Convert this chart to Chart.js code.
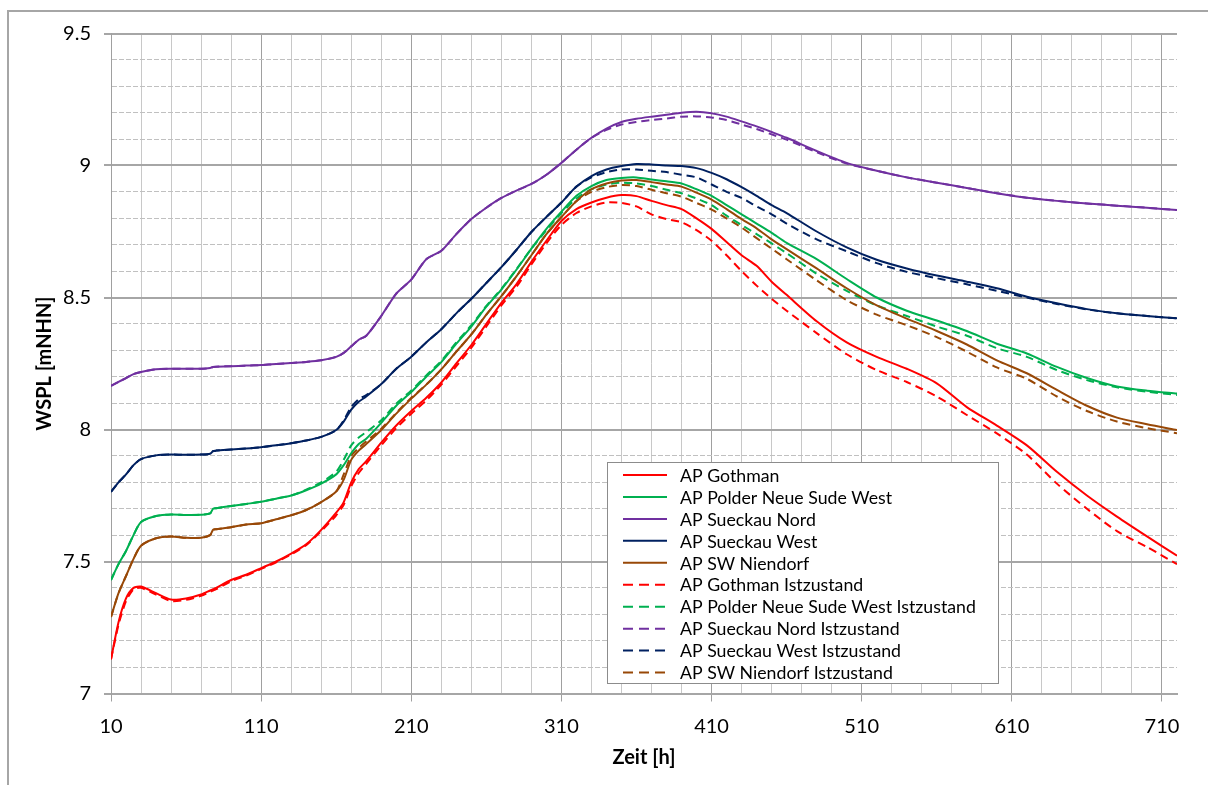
<!DOCTYPE html>
<html><head><meta charset="utf-8">
<script src="https://cdn.jsdelivr.net/npm/chart.js@4.4.0/dist/chart.umd.min.js"></script>
<style>html,body{margin:0;padding:0;background:#fff;}</style>
</head><body>
<canvas id="c" width="1208" height="785"></canvas>
<script>
const hours = [10,15,20,25,30,40,50,60,70,76,78,80,90,100,110,120,130,140,150,160,165,170,175,180,190,200,210,220,230,240,250,260,270,280,290,300,310,320,330,340,350,360,370,380,390,400,410,420,430,440,450,460,480,500,520,540,560,580,600,620,640,660,680,700,720];

const gothman = [7.13,7.27,7.36,7.40,7.405,7.38,7.356,7.36,7.375,7.39,7.395,7.40,7.43,7.45,7.475,7.50,7.53,7.565,7.62,7.685,7.725,7.80,7.85,7.88,7.95,8.015,8.07,8.12,8.178,8.25,8.32,8.40,8.48,8.55,8.635,8.715,8.79,8.835,8.86,8.878,8.888,8.884,8.866,8.85,8.835,8.80,8.76,8.71,8.66,8.62,8.56,8.51,8.41,8.33,8.275,8.23,8.175,8.085,8.015,7.94,7.84,7.75,7.67,7.595,7.522];
const polder = [7.43,7.49,7.54,7.60,7.65,7.672,7.678,7.676,7.677,7.682,7.70,7.702,7.71,7.718,7.726,7.738,7.75,7.77,7.795,7.83,7.865,7.91,7.945,7.965,8.025,8.09,8.142,8.20,8.255,8.325,8.39,8.465,8.53,8.605,8.685,8.76,8.825,8.885,8.922,8.945,8.953,8.955,8.947,8.94,8.932,8.91,8.885,8.85,8.815,8.78,8.745,8.707,8.645,8.57,8.50,8.45,8.413,8.373,8.325,8.288,8.237,8.195,8.163,8.147,8.136];
const nord = [8.165,8.18,8.195,8.21,8.218,8.228,8.23,8.23,8.23,8.233,8.237,8.238,8.24,8.242,8.244,8.248,8.252,8.256,8.262,8.275,8.29,8.315,8.34,8.355,8.43,8.515,8.568,8.645,8.677,8.74,8.797,8.84,8.877,8.905,8.93,8.965,9.01,9.06,9.105,9.14,9.165,9.177,9.185,9.192,9.20,9.204,9.198,9.185,9.167,9.148,9.127,9.105,9.055,9.01,8.98,8.955,8.935,8.915,8.895,8.878,8.866,8.856,8.848,8.84,8.831];
const west = [7.764,7.80,7.83,7.865,7.888,7.902,7.905,7.904,7.905,7.908,7.918,7.92,7.924,7.928,7.933,7.94,7.948,7.958,7.972,7.998,8.03,8.075,8.105,8.125,8.172,8.23,8.276,8.33,8.38,8.44,8.495,8.555,8.615,8.68,8.748,8.805,8.86,8.92,8.96,8.985,8.998,9.006,9.004,9.00,8.998,8.99,8.972,8.948,8.918,8.885,8.85,8.82,8.75,8.69,8.643,8.61,8.583,8.56,8.535,8.503,8.478,8.456,8.44,8.43,8.421];
const niendorf = [7.29,7.38,7.445,7.51,7.56,7.588,7.595,7.59,7.59,7.60,7.62,7.622,7.63,7.64,7.645,7.66,7.675,7.695,7.725,7.765,7.81,7.885,7.92,7.945,7.998,8.06,8.117,8.17,8.228,8.295,8.36,8.435,8.505,8.58,8.66,8.74,8.805,8.865,8.91,8.932,8.943,8.945,8.937,8.928,8.92,8.897,8.871,8.835,8.797,8.762,8.72,8.683,8.61,8.535,8.47,8.42,8.373,8.322,8.262,8.213,8.15,8.09,8.045,8.02,7.998];

const gothmanIst = [7.13,7.26,7.35,7.395,7.40,7.375,7.35,7.355,7.37,7.385,7.39,7.395,7.425,7.447,7.472,7.497,7.527,7.562,7.615,7.675,7.715,7.785,7.835,7.87,7.94,8.005,8.06,8.11,8.17,8.24,8.31,8.39,8.47,8.54,8.625,8.705,8.775,8.82,8.845,8.86,8.858,8.845,8.815,8.797,8.785,8.755,8.715,8.66,8.60,8.545,8.495,8.45,8.365,8.285,8.225,8.18,8.125,8.055,7.985,7.905,7.795,7.70,7.615,7.555,7.49];
const polderIst = [7.43,7.49,7.54,7.60,7.65,7.672,7.678,7.676,7.677,7.682,7.70,7.702,7.71,7.718,7.726,7.738,7.75,7.772,7.80,7.84,7.885,7.94,7.97,7.99,8.035,8.098,8.148,8.205,8.26,8.33,8.395,8.468,8.533,8.607,8.685,8.755,8.82,8.875,8.91,8.928,8.935,8.932,8.922,8.908,8.895,8.875,8.85,8.81,8.775,8.74,8.705,8.668,8.59,8.525,8.47,8.43,8.39,8.355,8.308,8.275,8.225,8.187,8.16,8.143,8.131];
const nordIst = [8.165,8.18,8.195,8.21,8.218,8.228,8.23,8.23,8.23,8.233,8.237,8.238,8.24,8.242,8.244,8.248,8.252,8.256,8.262,8.275,8.29,8.315,8.34,8.355,8.43,8.515,8.568,8.645,8.677,8.74,8.797,8.84,8.877,8.905,8.93,8.965,9.01,9.06,9.105,9.135,9.155,9.165,9.172,9.178,9.185,9.186,9.182,9.172,9.155,9.138,9.118,9.098,9.05,9.007,8.98,8.955,8.935,8.915,8.895,8.878,8.866,8.856,8.848,8.84,8.831];
const westIst = [7.764,7.80,7.83,7.865,7.888,7.902,7.905,7.904,7.905,7.908,7.918,7.92,7.924,7.928,7.933,7.94,7.948,7.958,7.972,7.998,8.035,8.085,8.115,8.13,8.172,8.23,8.276,8.33,8.38,8.44,8.495,8.555,8.615,8.68,8.748,8.805,8.86,8.92,8.955,8.975,8.985,8.985,8.98,8.975,8.965,8.955,8.928,8.90,8.877,8.845,8.815,8.78,8.72,8.675,8.63,8.597,8.573,8.55,8.525,8.50,8.475,8.455,8.44,8.43,8.421];
const niendorfIst = [7.29,7.38,7.445,7.51,7.56,7.588,7.595,7.59,7.59,7.60,7.62,7.622,7.63,7.64,7.645,7.66,7.675,7.695,7.725,7.765,7.83,7.90,7.93,7.955,8.003,8.063,8.12,8.17,8.228,8.295,8.36,8.435,8.505,8.58,8.66,8.74,8.805,8.865,8.90,8.918,8.926,8.922,8.908,8.895,8.882,8.858,8.833,8.80,8.765,8.725,8.685,8.645,8.565,8.49,8.435,8.395,8.35,8.295,8.235,8.192,8.125,8.07,8.03,8.005,7.986];

const seriesNames = ['AP Gothman','AP Polder Neue Sude West','AP Sueckau Nord','AP Sueckau West','AP SW Niendorf',
  'AP Gothman Istzustand','AP Polder Neue Sude West Istzustand','AP Sueckau Nord Istzustand','AP Sueckau West Istzustand','AP SW Niendorf Istzustand'];
const seriesValues = [gothman, polder, nord, west, niendorf, gothmanIst, polderIst, nordIst, westIst, niendorfIst];
const seriesColors = ['#FF0000','#00B050','#7030A0','#002060','#984807','#FF0000','#00B050','#7030A0','#002060','#984807'];

const xTickValues = [10,30,50,70,90,110,130,150,170,190,210,230,250,270,290,310,330,350,370,390,410,430,450,470,490,510,530,550,570,590,610,630,650,670,690,710];
const xLabelValues = [10,110,210,310,410,510,610,710];
const yTickValues = [7.0,7.1,7.2,7.3,7.4,7.5,7.6,7.7,7.8,7.9,8.0,8.1,8.2,8.3,8.4,8.5,8.6,8.7,8.8,8.9,9.0,9.1,9.2,9.3,9.4,9.5];
const yLabelValues = [7,7.5,8,8.5,9,9.5];

const isXMajor = v => xLabelValues.some(l => Math.abs(l - v) < 1e-6);
const isYMajor = v => yLabelValues.some(l => Math.abs(l - v) < 1e-6);

const datasets = seriesNames.map((name, i) => ({
  label: name,
  data: hours.map((h, j) => ({x: h, y: seriesValues[i][j]})),
  borderColor: seriesColors[i],
  backgroundColor: seriesColors[i],
  borderWidth: 2,
  borderDash: i >= 5 ? [8, 5] : [],
  pointRadius: 0,
  tension: 0.25,
  fill: false
}));

const bgPlugin = {
  id: 'bg',
  beforeDraw(chart) {
    const ctx = chart.ctx;
    ctx.save();
    ctx.fillStyle = '#fff';
    ctx.fillRect(0, 0, chart.width, chart.height);
    ctx.strokeStyle = '#a6a6a6';
    ctx.lineWidth = 2;
    ctx.strokeRect(8, 11, 1400, 1000);
    ctx.restore();
  }
};

const legendPlugin = {
  id: 'boxLegend',
  afterDatasetsDraw(chart) {
    const ctx = chart.ctx;
    const x0 = 607, y0 = 462, w = 391, h = 221;
    ctx.save();
    ctx.fillStyle = '#fff';
    ctx.fillRect(x0, y0, w, h);
    ctx.strokeStyle = '#8c8c8c';
    ctx.lineWidth = 1;
    ctx.strokeRect(x0 + 0.5, y0 + 0.5, w, h);
    let size = 18;
    ctx.font = size + 'px Lato';
    let maxW = 0;
    chart.data.datasets.forEach(d => { maxW = Math.max(maxW, ctx.measureText(d.label).width); });
    size = Math.min(20, size * 296 / maxW);
    ctx.font = size + 'px Lato';
    ctx.textBaseline = 'middle';
    ctx.fillStyle = '#000';
    chart.data.datasets.forEach((d, i) => {
      const cy = y0 + 13 + i * 21.95;
      ctx.beginPath();
      ctx.strokeStyle = d.borderColor;
      ctx.lineWidth = 2;
      ctx.setLineDash(d.borderDash && d.borderDash.length ? [10, 6] : []);
      ctx.moveTo(623, cy);
      ctx.lineTo(667, cy);
      ctx.stroke();
      ctx.setLineDash([]);
      ctx.fillText(d.label, 680, cy + 1);
    });
    ctx.restore();
  }
};

new Chart(document.getElementById('c'), {
  type: 'line',
  data: { datasets },
  plugins: [bgPlugin, legendPlugin],
  options: {
    responsive: false,
    animation: false,
    devicePixelRatio: 1,
    layout: { padding: { left: 0, top: 33.5, right: 31, bottom: 0 } },
    plugins: { legend: { display: false }, tooltip: { enabled: false } },
    scales: {
      x: {
        type: 'linear',
        min: 10, max: 720,
        afterBuildTicks: s => { s.ticks = xTickValues.map(v => ({value: v})); },
        afterFit: s => { s.height = 91.5; },
        ticks: {
          autoSkip: false, maxRotation: 0, padding: 13,
          color: '#000',
          font: { family: 'Lato', size: 20 },
          callback: v => isXMajor(v) ? String(v) : ''
        },
        grid: {
          color: c => isXMajor(c.tick.value) ? '#a0a0a0' : '#c8c8c8',
          lineWidth: 1,
          tickLength: 8,
          tickColor: c => isXMajor(c.tick.value) ? '#a0a0a0' : 'rgba(0,0,0,0)'
        },
        border: { display: true, color: '#a6a6a6', width: 2 },
        title: {
          display: true, text: 'Zeit [h]', color: '#000',
          font: { family: 'Lato', size: 20, weight: 'bold' },
          padding: { top: 0, bottom: 15 }
        }
      },
      y: {
        type: 'linear',
        min: 7, max: 9.5,
        afterBuildTicks: s => { s.ticks = yTickValues.map(v => ({value: v})); },
        afterFit: s => { s.width = 111; },
        ticks: {
          autoSkip: false, padding: 13,
          color: '#000',
          font: { family: 'Lato', size: 20 },
          callback: v => isYMajor(v) ? String(+v.toFixed(1)) : ''
        },
        grid: {
          color: c => isYMajor(c.tick.value) ? '#a6a6a6' : '#c0c0c0',
          lineWidth: c => isYMajor(c.tick.value) ? 2 : 1,
          tickLength: 7,
          tickColor: c => isYMajor(c.tick.value) ? '#a6a6a6' : 'rgba(0,0,0,0)',
          tickWidth: 2
        },
        border: {
          display: true, color: '#a0a0a0', width: 1,
          dash: c => (c.tick && !isYMajor(c.tick.value)) ? [5, 2] : []
        },
        title: {
          display: true, text: 'WSPL [mNHN]', color: '#000',
          font: { family: 'Lato', size: 20, weight: 'bold' },
          padding: { top: 33, bottom: 0 }
        }
      }
    }
  }
});
</script>
</body></html>
